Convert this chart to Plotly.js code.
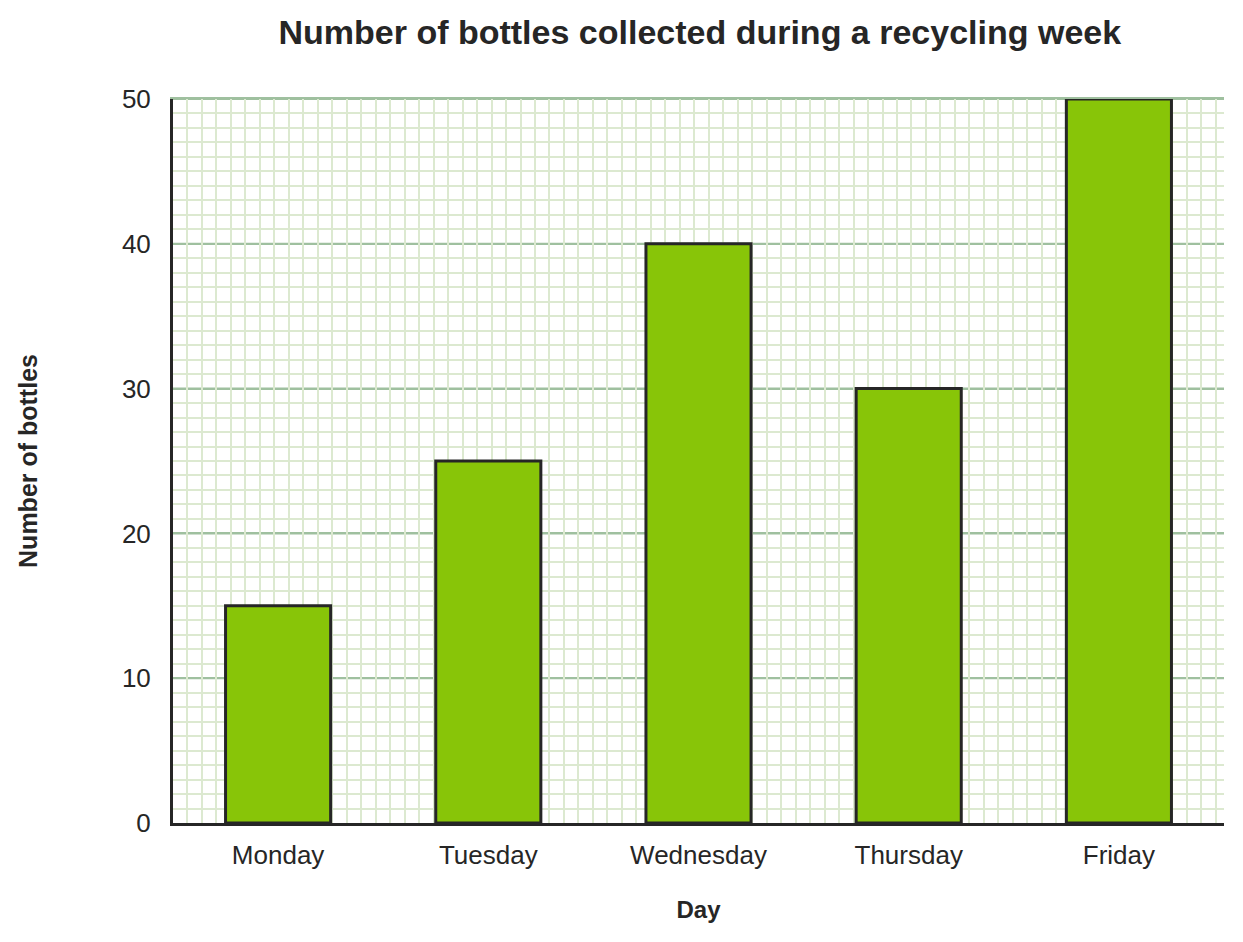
<!DOCTYPE html>
<html>
<head>
<meta charset="utf-8">
<script src="https://cdn.plot.ly/plotly-3.0.1.min.js"></script>
<style>
  body { margin: 0; background: #fff; }
  #chart { width: 1243px; height: 942px; }
</style>
</head>
<body>
<div id="chart"></div>
<script>
// data
var days = ["Monday", "Tuesday", "Wednesday", "Thursday", "Friday"];
var bottles = [15, 25, 40, 30, 50];
var yTicks = [0, 10, 20, 30, 40, 50];

var darkInk = "#262626";
var barGreen = "#88c508";
var majorGrid = "#9fc09f";
var minorGrid = "#dce9d0";

// plot area is 1051px wide, squares of 1 y-unit (~14.48px)
var squaresAcross = 1051 / (724 / 50);

var traceBars = {
  type: "bar",
  x: days,
  y: bottles,
  width: 0.5,
  marker: { color: barGreen, line: { color: darkInk, width: 3 } },
  hoverinfo: "x+y",
};

// invisible helper so the square grid axis is drawn
var traceGrid = {
  type: "scatter",
  x: [0],
  y: [0],
  xaxis: "x2",
  mode: "markers",
  marker: { opacity: 0 },
  hoverinfo: "skip",
  showlegend: false,
};

// major lines drawn as shapes so they sit on top of the light square grid
var majorLines = yTicks
  .filter(function (v) { return v > 0; })
  .map(function (v) {
    return {
      type: "line",
      layer: "below",
      xref: "paper",
      yref: "y",
      x0: 0,
      x1: 1,
      y0: v,
      y1: v,
      line: { color: majorGrid, width: 2 },
    };
  });

var layout = {
  width: 1243,
  height: 942,
  margin: { l: 173, r: 19, t: 99, b: 119 },
  paper_bgcolor: "#fff",
  plot_bgcolor: "#fff",
  showlegend: false,
  font: { family: "Liberation Sans, Arial, sans-serif", color: darkInk },
  shapes: majorLines,
  title: {
    text: "<b>Number of bottles collected during a recycling week</b>",
    font: { size: 34, color: darkInk },
    x: 0.563,
    xanchor: "center",
    y: 0.966,
    yanchor: "middle",
  },
  xaxis: {
    type: "category",
    showgrid: false,
    showline: true,
    linecolor: darkInk,
    linewidth: 3,
    ticks: "",
    tickfont: { size: 26 },
    ticklabelstandoff: 7,
    title: { text: "<b>Day</b>", font: { size: 24 }, standoff: 32 },
    zeroline: false,
  },
  xaxis2: {
    overlaying: "x",
    side: "top",
    range: [0, squaresAcross],
    dtick: 1,
    showgrid: true,
    gridcolor: minorGrid,
    gridwidth: 2,
    showticklabels: false,
    ticks: "",
    zeroline: false,
    // top edge line at 50
    showline: true,
    linecolor: majorGrid,
    linewidth: 2,
  },
  yaxis: {
    range: [0, 50],
    tickvals: yTicks,
    showgrid: true,
    gridcolor: majorGrid,
    gridwidth: 2,
    minor: { dtick: 1, showgrid: true, gridcolor: minorGrid, gridwidth: 2 },
    showline: true,
    linecolor: darkInk,
    linewidth: 3,
    ticks: "",
    tickfont: { size: 26 },
    ticklabelstandoff: 14,
    zeroline: false,
    title: { text: "<b>Number of bottles</b>", font: { size: 25 }, standoff: 78 },
  },
};

var config = { displayModeBar: false, responsive: false };

Plotly.newPlot("chart", [traceBars, traceGrid], layout, config);
</script>
</body>
</html>
